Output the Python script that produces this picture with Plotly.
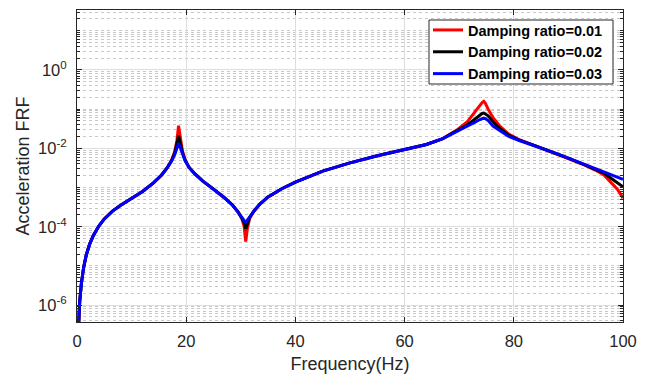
import plotly.graph_objects as go

# ---- data (frequency in Hz, log10 of FRF magnitude) ----
freq = [0.2, 0.3, 0.5, 0.8, 1.2, 1.7, 2.3, 3.0, 4.0, 5.0, 6.5, 8.0, 10, 12, 14, 15.5,
        16.5, 17.3, 17.9, 18.3, 18.6, 18.9, 19.3, 19.8, 20.5, 21.5, 23, 25, 27, 28.5,
        29.5, 30.2, 30.6, 30.9, 31.2, 31.6, 32.3, 33.5, 35, 37.5, 40, 45, 50, 55, 60,
        64, 67, 69.5, 71.5, 72.8, 73.7, 74.2, 74.5, 74.8, 75.3, 76.2, 77.5, 79, 81,
        84, 87, 90, 93, 95, 96.5, 98, 99, 100]

log_blue = [-6.8, -6.35, -5.9, -5.45, -5.05, -4.72, -4.45, -4.22, -3.98, -3.80, -3.60,
            -3.45, -3.28, -3.10, -2.88, -2.68, -2.50, -2.33, -2.16, -2.00, -1.87, -1.97,
            -2.15, -2.32, -2.48, -2.64, -2.83, -3.04, -3.26, -3.45, -3.62, -3.76, -3.84,
            -3.88, -3.83, -3.75, -3.62, -3.42, -3.24, -3.03, -2.86, -2.58, -2.37, -2.19,
            -2.03, -1.90, -1.75, -1.58, -1.44, -1.34, -1.27, -1.24, -1.23, -1.24, -1.29,
            -1.43, -1.56, -1.69, -1.80, -1.94, -2.09, -2.25, -2.41, -2.52, -2.60, -2.68,
            -2.73, -2.79]

log_black = [-6.8, -6.35, -5.9, -5.45, -5.05, -4.72, -4.45, -4.22, -3.98, -3.80, -3.60,
             -3.45, -3.28, -3.10, -2.88, -2.68, -2.50, -2.32, -2.12, -1.90, -1.68, -1.85,
             -2.10, -2.30, -2.48, -2.64, -2.83, -3.04, -3.26, -3.45, -3.62, -3.78, -3.90,
             -4.05, -3.92, -3.77, -3.62, -3.42, -3.24, -3.03, -2.86, -2.58, -2.37, -2.19,
             -2.03, -1.90, -1.75, -1.56, -1.40, -1.26, -1.16, -1.11, -1.10, -1.12, -1.17,
             -1.32, -1.50, -1.66, -1.79, -1.94, -2.09, -2.25, -2.42, -2.54, -2.63, -2.78,
             -2.87, -2.98]

log_red = [-6.8, -6.35, -5.9, -5.45, -5.05, -4.72, -4.45, -4.22, -3.98, -3.80, -3.60,
           -3.45, -3.28, -3.10, -2.88, -2.68, -2.50, -2.31, -2.08, -1.80, -1.42, -1.72,
           -2.06, -2.29, -2.48, -2.64, -2.83, -3.04, -3.26, -3.45, -3.62, -3.80, -3.98,
           -4.38, -4.05, -3.80, -3.62, -3.42, -3.24, -3.03, -2.86, -2.58, -2.37, -2.19,
           -2.03, -1.90, -1.75, -1.54, -1.32, -1.08, -0.93, -0.83, -0.80, -0.85, -1.00,
           -1.22, -1.44, -1.63, -1.78, -1.94, -2.09, -2.25, -2.43, -2.56, -2.68, -2.90,
           -3.05, -3.27]

series_names = ["Damping ratio=0.01", "Damping ratio=0.02", "Damping ratio=0.03"]
series_logs = [log_red, log_black, log_blue]
series_colors = ["#ff0000", "#000000", "#0000ff"]

x_ticks = [0, 20, 40, 60, 80, 100]
y_tick_exps = [-6, -4, -2, 0]

FONT = "Liberation Sans, Arial, sans-serif"
AX = "#262626"

# plot area in pixels (figure 646 x 379)
L, R, T, B = 77, 623, 10, 322
W, H = R - L, B - T

fig = go.Figure()
for name, logs, col in zip(series_names, series_logs, series_colors):
    fig.add_trace(go.Scatter(
        x=freq, y=[10 ** v for v in logs], mode="lines", name="<b>%s</b>" % name,
        line=dict(color=col, width=3),
    ))

minor_vals = [k * 10.0 ** n for n in range(-8, 2) for k in range(1, 10)
              if not (k == 1 and n % 2 == 0)]

# legend frame (drawn as a shape so its size can match the reference)
fig.add_shape(type="rect", xref="paper", yref="paper", layer="above",
              x0=(429 - L) / W, x1=(613 - L) / W,
              y0=1 - (84 - T) / H, y1=1 - (20 - T) / H,
              fillcolor="white", line=dict(color=AX, width=1))

fig.update_layout(
    width=646, height=379,
    margin=dict(l=L, r=646 - R, t=T, b=379 - B),
    paper_bgcolor="white", plot_bgcolor="white",
    font=dict(family=FONT, color=AX, size=16),
    showlegend=True,
    legend=dict(
        x=(428 - L) / W, y=1 - (14 - T) / H, xanchor="left", yanchor="top",
        bgcolor="rgba(0,0,0,0)", borderwidth=0,
        font=dict(family=FONT, size=14.5, color="black"),
        itemwidth=30, tracegroupgap=0,
    ),
)

fig.update_xaxes(
    range=[0, 100], tickvals=x_ticks, ticktext=[str(t) for t in x_ticks],
    showline=True, linecolor=AX, linewidth=1, mirror="allticks",
    ticks="inside", ticklen=5, tickcolor=AX, tickwidth=1,
    showgrid=True, gridcolor="#dedede", gridwidth=1,
    zeroline=False, automargin=False,
    tickfont=dict(size=16.5, color=AX, family=FONT),
    ticklabelstandoff=4,
    title=dict(text="Frequency(Hz)", font=dict(size=18, color=AX, family=FONT), standoff=8),
)

fig.update_yaxes(
    type="log", range=[-6.43, 1.53],
    tickvals=[10.0 ** e for e in y_tick_exps],
    ticktext=["10<sup>%d</sup>" % e for e in y_tick_exps],
    showline=True, linecolor=AX, linewidth=1, mirror="allticks",
    ticks="inside", ticklen=5, tickcolor=AX, tickwidth=1,
    showgrid=True, gridcolor="#dedede", gridwidth=1,
    zeroline=False, automargin=False,
    tickfont=dict(size=16.5, color=AX, family=FONT),
    ticklabelstandoff=6,
    minor=dict(tickvals=minor_vals, ticks="inside", ticklen=3, tickcolor=AX,
               showgrid=True, gridcolor="#c8c8c8", griddash="dot", gridwidth=1),
    title=dict(text="Acceleration FRF", font=dict(size=18, color=AX, family=FONT), standoff=3),
)

fig.write_html("out.html")
